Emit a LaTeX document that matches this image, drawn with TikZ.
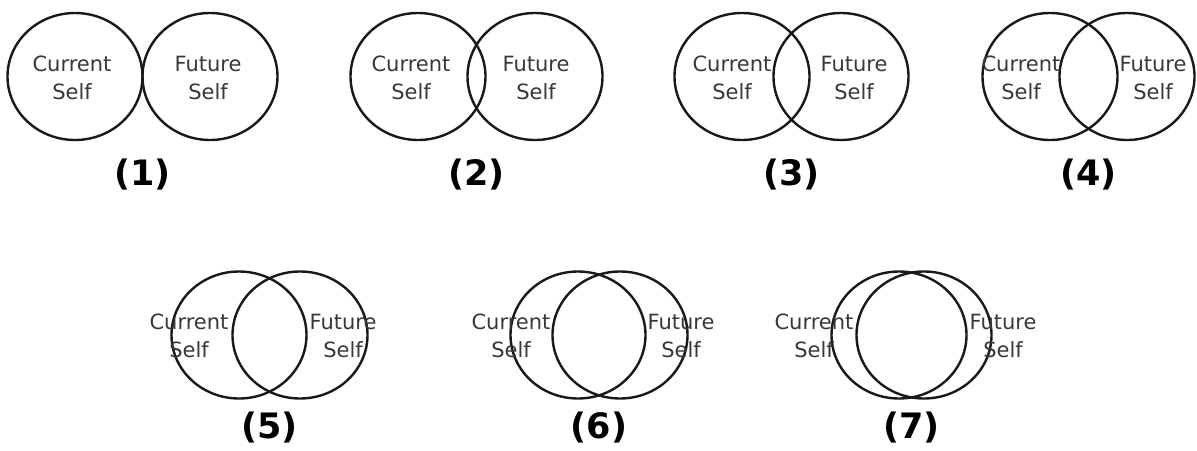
\documentclass[tikz,border=0pt]{standalone}
\usepackage{fontspec}
\setmainfont{DejaVu Sans}
\usepackage{tikz}
\usetikzlibrary{shapes.geometric}
\tikzset{
  every picture/.style={x=1pt, y=-1pt},
  yo/.style={draw=black!90, ellipse, line width=2.4pt, minimum width=135pt, minimum height=127pt,
             inner sep=0pt},
  rotulo/.style={text=black!78, align=center, inner sep=0pt, font=\fontsize{21}{28}\selectfont},
  numero/.style={text=black, inner sep=0pt, font=\fontsize{35}{38}\selectfont\bfseries},
}

\begin{document}
\begin{tikzpicture}
  \useasboundingbox (0,0) rectangle (1197,450);
  % par: actual / futuro / centro y / textos / numero
  \foreach \n/\xa/\xb/\cy/\ta/\tb/\dy in {1/75/210/76.5/72/208/98.5, 2/418/535/76.5/411/536/98.5,
      3/742/841/76.5/732/854/98.5, 4/1050/1127/76.5/1021/1153/98.5, 5/239/300/335/189/343/93,
      6/578/620/335/511/681/93, 7/899/924/335/814/1003/93}{
    \node[yo] (act\n) at (\xa,\cy) {};
    \node[yo] (fut\n) at (\xb,\cy) {};
    \node[rotulo] (tact\n) at (\ta,\cy+1) {Current\\Self};
    \node[rotulo] (tfut\n) at (\tb,\cy+1) {Future\\Self};
    \node[numero] (num\n) at ({(\xa+\xb)/2},{\cy+\dy}) {(\n)};
  }
\end{tikzpicture}
\end{document}
